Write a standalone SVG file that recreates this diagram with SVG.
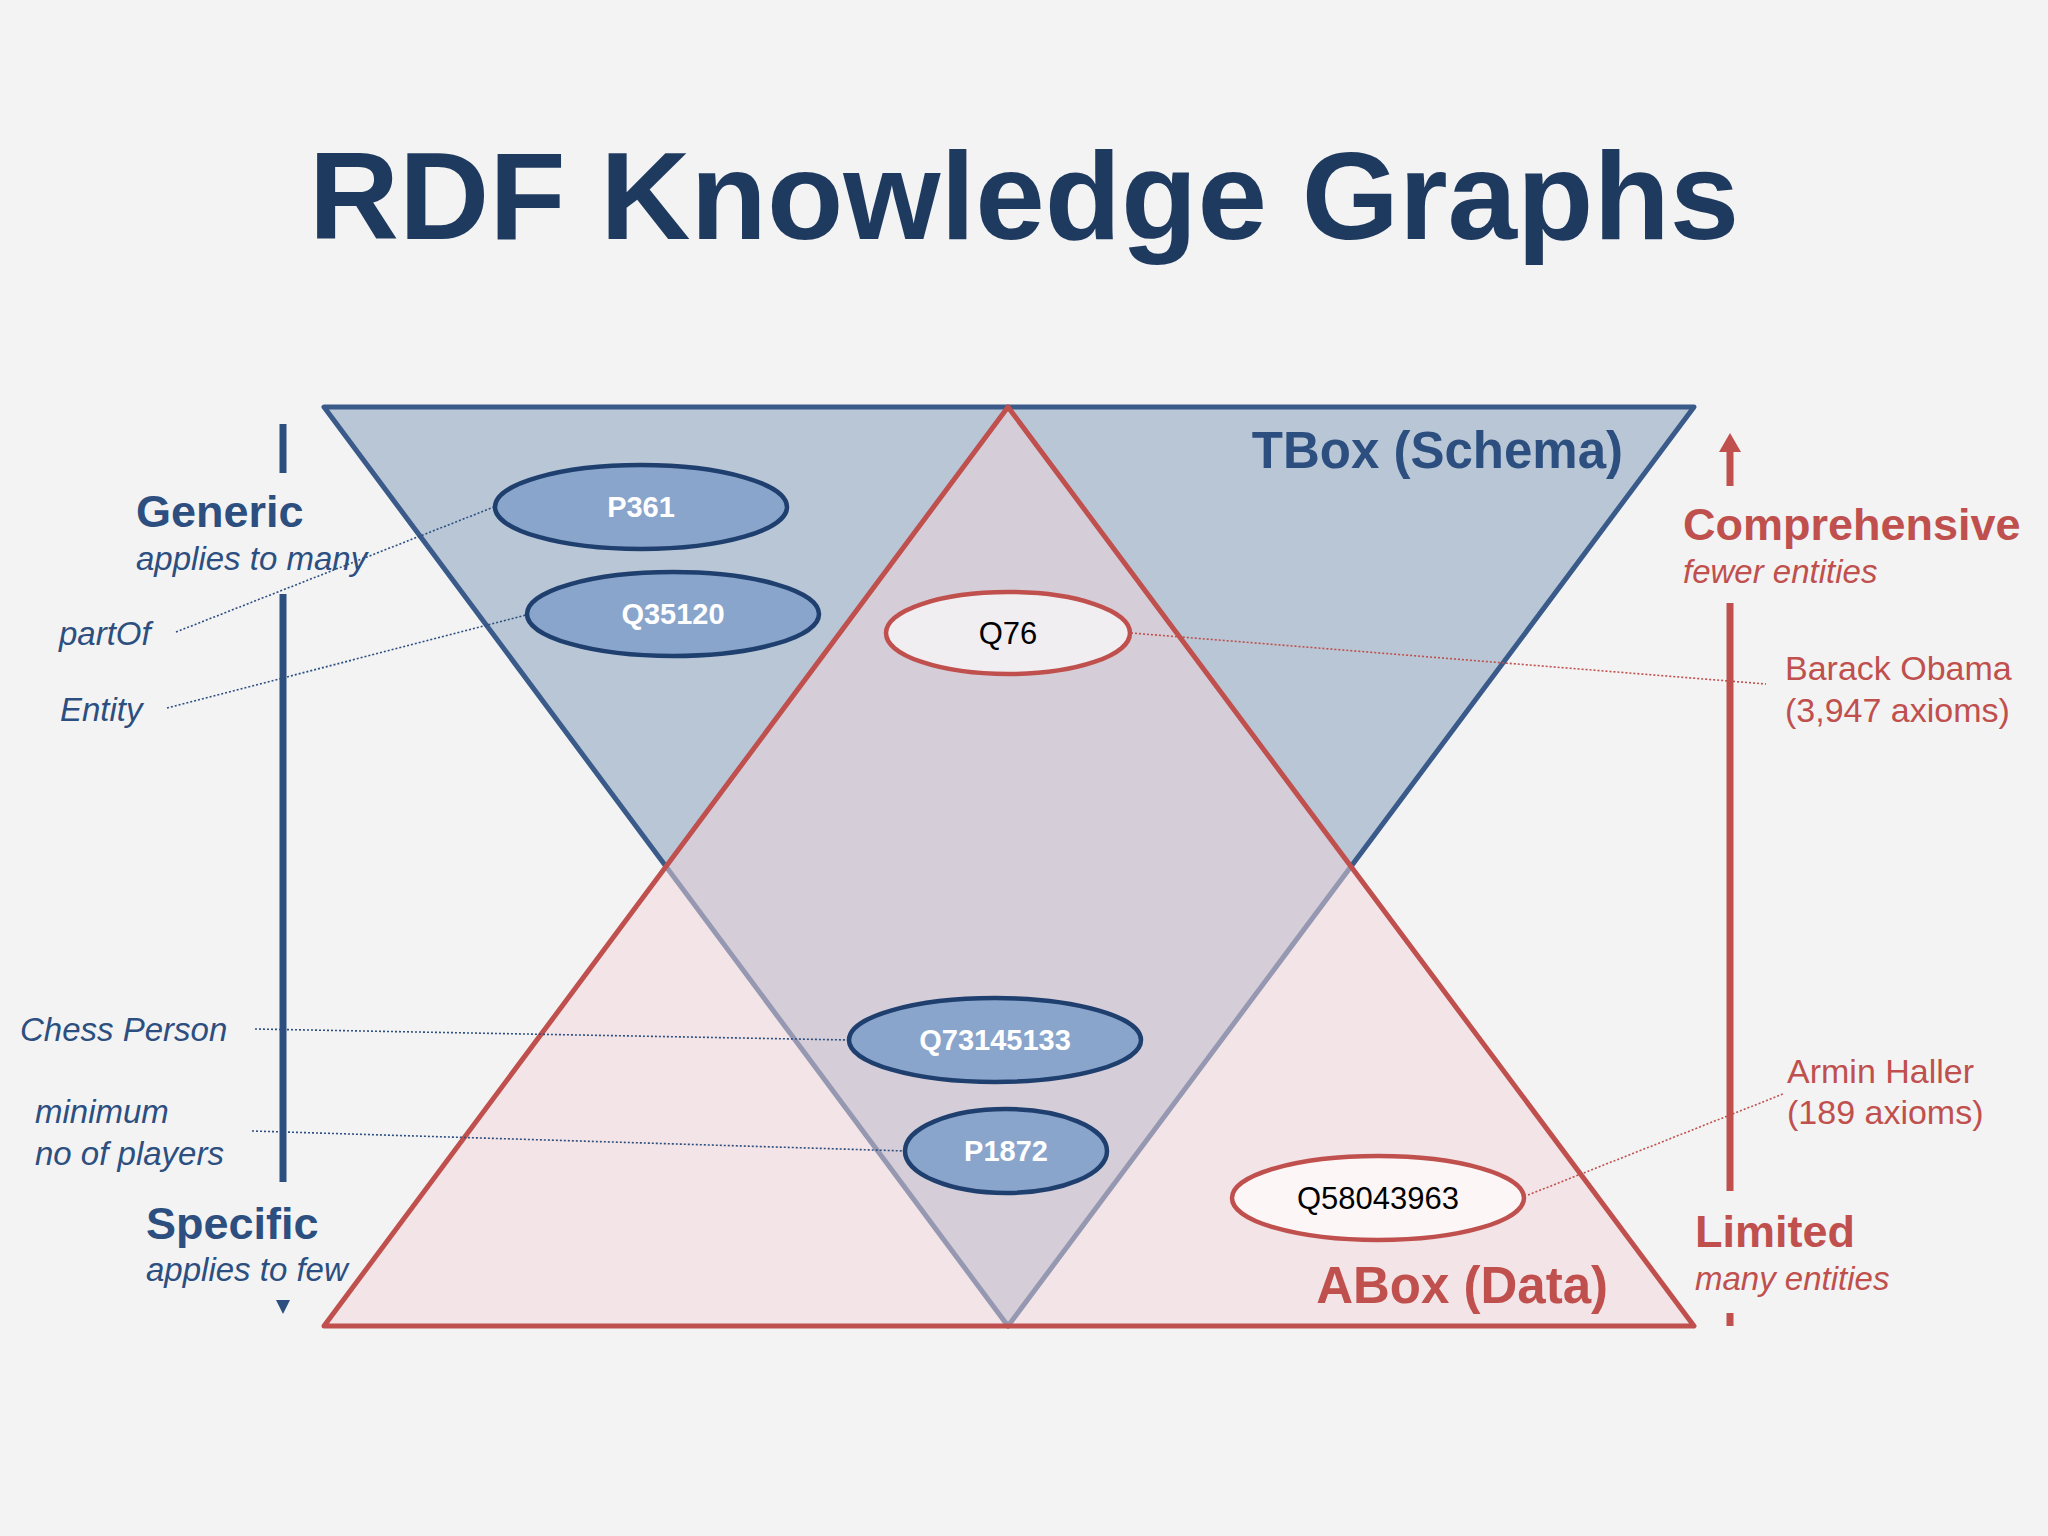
<svg xmlns="http://www.w3.org/2000/svg" width="2048" height="1536" viewBox="0 0 2048 1536">
<style>
text{font-family:"Liberation Sans",Arial,sans-serif}
.b{fill:#2c4f80}.r{fill:#c0504d}
.h{font-weight:bold;font-size:45px}
.i{font-style:italic;font-size:33px}
.n{font-size:34px}
.eb{fill:#8aa5cc;stroke:#1f3f6f;stroke-width:4.5}
.er{stroke:#c0504d;stroke-width:4.5}
.tb{fill:#fff;font-weight:bold;font-size:29px;text-anchor:middle}
.tk{fill:#000;font-size:31px;text-anchor:middle}
.db{stroke:#2c4f80;stroke-width:1.6;stroke-dasharray:2 2;fill:none}
.dr{stroke:#c0504d;stroke-width:1.6;stroke-dasharray:2 2;fill:none}
</style>
<rect width="2048" height="1536" fill="#f3f3f4"/>
<text x="1024" y="239" text-anchor="middle" font-size="125" font-weight="bold" fill="#1f3a5f">RDF Knowledge Graphs</text>
<g id="tbox"><polygon points="324,407 1694,407 1008,1326" fill="#b8c6d6" stroke="#3a5a8a" stroke-width="5" stroke-linejoin="round"/></g>
<g id="abox"><polygon points="1008,407 1694,1326 324,1326" fill="#f1d5d9" fill-opacity="0.5" stroke="#c0504d" stroke-width="5" stroke-linejoin="round"/></g>
<text x="1623" y="468" text-anchor="end" font-size="51" font-weight="bold" class="b">TBox (Schema)</text>
<text x="1608" y="1303" text-anchor="end" font-size="51" font-weight="bold" class="r">ABox (Data)</text>
<g id="connectors">
<line class="db" x1="176" y1="632" x2="494" y2="507"/>
<line class="db" x1="167" y1="708" x2="526" y2="615"/>
<line class="db" x1="255" y1="1029" x2="849" y2="1040"/>
<line class="db" x1="252" y1="1131" x2="906" y2="1151"/>
<line class="dr" x1="1131" y1="633" x2="1766" y2="684"/>
<line class="dr" x1="1528" y1="1195" x2="1783" y2="1094"/>
</g>
<g id="P361"><ellipse class="eb" cx="641" cy="507" rx="146" ry="42"/><text class="tb" x="641" y="517">P361</text></g>
<g id="Q35120"><ellipse class="eb" cx="673" cy="614" rx="146" ry="42"/><text class="tb" x="673" y="624">Q35120</text></g>
<g id="Q76"><ellipse class="er" fill="#f0eef0" cx="1008" cy="633" rx="122" ry="41"/><text class="tk" x="1008" y="644">Q76</text></g>
<g id="Q73145133"><ellipse class="eb" cx="995" cy="1040" rx="146" ry="42"/><text class="tb" x="995" y="1050">Q73145133</text></g>
<g id="P1872"><ellipse class="eb" cx="1006" cy="1151" rx="101" ry="42"/><text class="tb" x="1006" y="1161">P1872</text></g>
<g id="Q58043963"><ellipse class="er" fill="#fcf6f7" cx="1378" cy="1198" rx="146" ry="42"/><text class="tk" x="1378" y="1209">Q58043963</text></g>
<g id="leftaxis">
<line x1="283" y1="424" x2="283" y2="473" stroke="#2c4f80" stroke-width="7"/>
<line x1="283" y1="594" x2="283" y2="1182" stroke="#2c4f80" stroke-width="7"/>
<polygon points="276,1300 290,1300 283,1314" fill="#2c4f80"/>
<text x="136" y="527" class="h b">Generic</text>
<text x="136" y="570" class="i b">applies to many</text>
<text x="59" y="645" class="i b">partOf</text>
<text x="60" y="721" class="i b">Entity</text>
<text x="20" y="1041" class="i b">Chess Person</text>
<text x="35" y="1123" class="i b">minimum</text>
<text x="35" y="1165" class="i b">no of players</text>
<text x="146" y="1239" class="h b">Specific</text>
<text x="146" y="1281" class="i b">applies to few</text>
</g>
<g id="rightaxis">
<polygon points="1730,433 1719,452 1741,452" fill="#c0504d"/>
<line x1="1730" y1="450" x2="1730" y2="486" stroke="#c0504d" stroke-width="7"/>
<line x1="1730" y1="603" x2="1730" y2="1191" stroke="#c0504d" stroke-width="7"/>
<line x1="1730" y1="1313" x2="1730" y2="1326" stroke="#c0504d" stroke-width="7"/>
<text x="1683" y="540" class="h r">Comprehensive</text>
<text x="1683" y="583" class="i r">fewer entities</text>
<text x="1785" y="680" class="n r">Barack Obama</text>
<text x="1785" y="722" class="n r">(3,947 axioms)</text>
<text x="1787" y="1083" class="n r">Armin Haller</text>
<text x="1787" y="1124" class="n r">(189 axioms)</text>
<text x="1695" y="1247" class="h r">Limited</text>
<text x="1695" y="1290" class="i r">many entities</text>
</g>
</svg>
